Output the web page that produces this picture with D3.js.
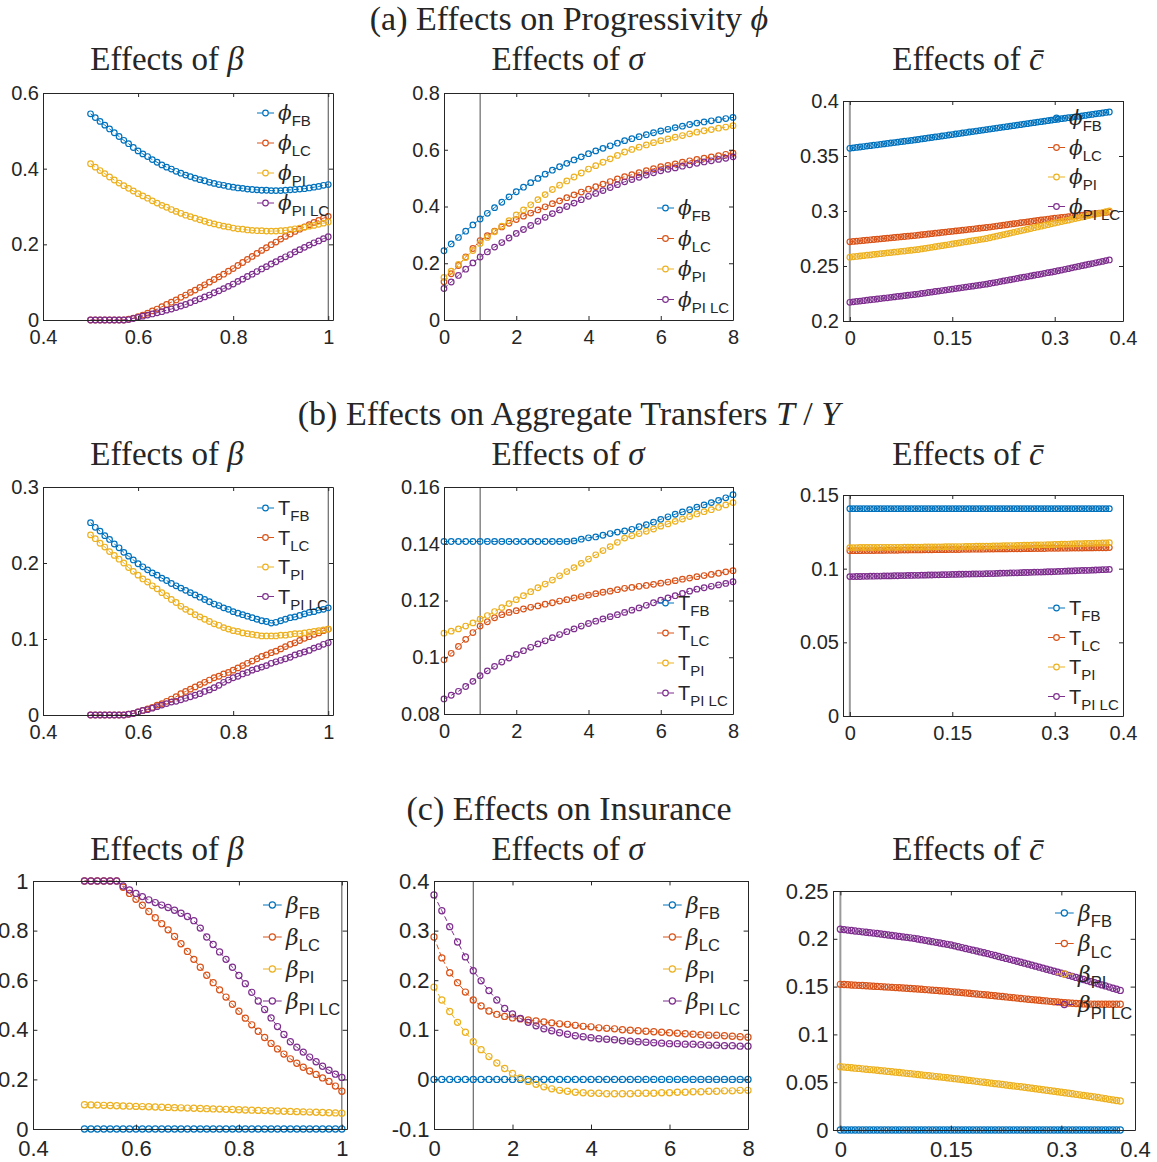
<!DOCTYPE html>
<html>
<head>
<meta charset="utf-8">
<script src="https://cdn.jsdelivr.net/npm/d3@7"></script>
<style>
body { margin: 0; background: #fff; }
svg text { fill: #262626; }
</style>
</head>
<body>
<div id="chart"></div>
<script>
// ---- x grids ----
var betaGrid = [0.50,0.51,0.52,0.53,0.54,0.55,0.56,0.57,0.58,0.59,
	0.60,0.61,0.62,0.63,0.64,0.65,0.66,0.67,0.68,0.69,
	0.70,0.71,0.72,0.73,0.74,0.75,0.76,0.77,0.78,0.79,
	0.80,0.81,0.82,0.83,0.84,0.85,0.86,0.87,0.88,0.89,
	0.90,0.91,0.92,0.93,0.94,0.95,0.96,0.97,0.98,0.99,1.00];
var betaGridIns = [0.5,0.5125,0.525,0.5375,0.55,0.5625,0.575,0.5875,0.6,0.6125,
	0.625,0.6375,0.65,0.6625,0.675,0.6875,0.7,0.7125,0.725,0.7375,
	0.75,0.7625,0.775,0.7875,0.8,0.8125,0.825,0.8375,0.85,0.8625,
	0.875,0.8875,0.9,0.9125,0.925,0.9375,0.95,0.9625,0.975,0.9875,1.0];
var sigmaGrid = [0,0.2,0.4,0.6,0.8,1,1.2,1.4,1.6,1.8,2,2.2,2.4,2.6,2.8,3,3.2,3.4,3.6,3.8,
	4,4.2,4.4,4.6,4.8,5,5.2,5.4,5.6,5.8,6,6.2,6.4,6.6,6.8,7,7.2,7.4,7.6,7.8,8];
var cbarGrid = [0,0.005,0.01,0.015,0.02,0.025,0.03,0.035,0.04,0.045,
	0.05,0.055,0.06,0.065,0.07,0.075,0.08,0.085,0.09,0.095,
	0.1,0.105,0.11,0.115,0.12,0.125,0.13,0.135,0.14,0.145,
	0.15,0.155,0.16,0.165,0.17,0.175,0.18,0.185,0.19,0.195,
	0.2,0.205,0.21,0.215,0.22,0.225,0.23,0.235,0.24,0.245,
	0.25,0.255,0.26,0.265,0.27,0.275,0.28,0.285,0.29,0.295,
	0.3,0.305,0.31,0.315,0.32,0.325,0.33,0.335,0.34,0.345,
	0.35,0.355,0.36,0.365,0.37,0.375,0.38];

var seriesNames = ["FB", "LC", "PI", "PI LC"];
var seriesColors = ["#0072BD", "#D95319", "#EDB120", "#7E2F8E"];

// ---- (a) progressivity ----
var phiBetaFB = [.545,.535,.525,.515,.505,.495,.485,.475,.466,.456,
	.447,.439,.432,.424,.417,.410,.404,.399,.393,.388,
	.383,.379,.375,.371,.368,.364,.361,.358,.356,.353,
	.351,.349,.348,.346,.345,.344,.343,.343,.342,.342,
	.342,.343,.344,.345,.346,.347,.349,.351,.353,.356,.358];
var phiBetaLC = [0,0,0,0,0,0,0,0,.002,.005,
	.009,.013,.018,.024,.029,.035,.041,.047,.053,.060,
	.066,.073,.079,.086,.093,.100,.107,.114,.121,.129,
	.136,.144,.152,.160,.168,.176,.184,.191,.199,.206,
	.214,.221,.227,.234,.240,.246,.252,.258,.263,.269,.274];
var phiBetaPI = [.413,.404,.395,.387,.378,.370,.362,.355,.348,.341,
	.334,.328,.322,.315,.309,.303,.298,.292,.287,.282,
	.277,.273,.269,.265,.261,.257,.254,.251,.248,.246,
	.243,.241,.240,.238,.237,.236,.236,.235,.235,.235,
	.236,.237,.239,.241,.243,.245,.248,.250,.253,.256,.259];
var phiBetaPILC = [0,0,0,0,0,0,0,0,.001,.004,
	.007,.010,.013,.016,.019,.022,.026,.029,.033,.037,
	.041,.046,.051,.056,.061,.066,.072,.077,.083,.089,
	.095,.102,.108,.115,.121,.128,.135,.141,.148,.154,
	.161,.167,.173,.180,.186,.192,.198,.204,.209,.215,.220];

var phiSigmaFB = [.244,.268,.291,.313,.335,.356,.376,.396,.415,.434,
	.452,.468,.484,.499,.514,.528,.540,.552,.564,.575,
	.586,.596,.605,.614,.623,.632,.639,.646,.653,.660,
	.666,.672,.678,.683,.689,.694,.698,.702,.706,.710,.714];
var phiSigmaLC = [.135,.163,.192,.222,.252,.280,.297,.313,.328,.341,
	.354,.366,.377,.388,.399,.410,.420,.431,.441,.451,
	.461,.470,.479,.488,.497,.505,.512,.519,.526,.533,
	.540,.545,.550,.556,.561,.566,.570,.575,.579,.584,.588];
var phiSigmaPI = [.150,.172,.196,.220,.245,.270,.291,.311,.331,.350,
	.370,.388,.406,.424,.442,.460,.475,.490,.504,.518,
	.532,.544,.556,.568,.580,.592,.601,.609,.617,.625,
	.632,.638,.644,.650,.656,.662,.667,.671,.676,.680,.685];
var phiSigmaPILC = [.111,.134,.157,.179,.201,.222,.240,.257,.273,.289,
	.305,.319,.333,.348,.362,.375,.388,.400,.412,.424,
	.436,.446,.456,.467,.477,.487,.495,.503,.511,.519,
	.526,.531,.536,.542,.547,.552,.557,.561,.566,.570,.575];

var phiCbarFB = [.3570,.3574,.3578,.3582,.3586,.3590,.3594,.3598,.3602,.3606,
	.3610,.3614,.3618,.3622,.3626,.3630,.3634,.3638,.3642,.3646,
	.3650,.3655,.3659,.3664,.3668,.3673,.3677,.3682,.3686,.3691,
	.3695,.3700,.3704,.3709,.3713,.3718,.3722,.3727,.3731,.3736,
	.3740,.3745,.3749,.3754,.3758,.3763,.3767,.3772,.3776,.3781,
	.3785,.3790,.3794,.3799,.3803,.3808,.3812,.3817,.3821,.3826,
	.3830,.3834,.3839,.3843,.3848,.3852,.3856,.3861,.3865,.3869,
	.3874,.3878,.3883,.3887,.3891,.3896,.3900];
var phiCbarLC = [.2720,.2723,.2726,.2729,.2732,.2735,.2738,.2741,.2744,.2747,
	.2750,.2753,.2756,.2759,.2762,.2765,.2768,.2771,.2774,.2777,
	.2780,.2784,.2787,.2791,.2794,.2798,.2801,.2805,.2808,.2812,
	.2815,.2819,.2822,.2826,.2829,.2833,.2836,.2840,.2843,.2847,
	.2850,.2854,.2858,.2863,.2867,.2871,.2875,.2880,.2884,.2888,
	.2893,.2897,.2901,.2905,.2910,.2914,.2918,.2922,.2927,.2931,
	.2935,.2938,.2942,.2945,.2949,.2952,.2956,.2959,.2963,.2966,
	.2969,.2973,.2976,.2980,.2983,.2987,.2990];
var phiCbarPI = [.2580,.2584,.2587,.2591,.2594,.2598,.2601,.2605,.2608,.2612,
	.2615,.2619,.2622,.2626,.2629,.2633,.2636,.2640,.2643,.2647,
	.2650,.2655,.2660,.2665,.2670,.2675,.2680,.2685,.2690,.2695,
	.2700,.2705,.2710,.2715,.2720,.2725,.2730,.2735,.2740,.2745,
	.2750,.2757,.2764,.2771,.2778,.2785,.2792,.2799,.2806,.2813,
	.2820,.2827,.2834,.2841,.2848,.2855,.2862,.2869,.2876,.2883,
	.2890,.2897,.2904,.2911,.2917,.2924,.2931,.2938,.2945,.2952,
	.2959,.2966,.2972,.2979,.2986,.2993,.3000];
var phiCbarPILC = [.2170,.2174,.2178,.2181,.2185,.2189,.2193,.2196,.2200,.2204,
	.2208,.2211,.2215,.2219,.2223,.2226,.2230,.2234,.2238,.2241,
	.2245,.2250,.2254,.2259,.2263,.2268,.2272,.2277,.2281,.2286,
	.2290,.2295,.2299,.2304,.2308,.2313,.2317,.2322,.2326,.2331,
	.2335,.2341,.2347,.2352,.2358,.2364,.2370,.2375,.2381,.2387,
	.2393,.2398,.2404,.2410,.2416,.2421,.2427,.2433,.2439,.2444,
	.2450,.2457,.2463,.2470,.2476,.2483,.2490,.2496,.2503,.2509,
	.2516,.2522,.2529,.2536,.2542,.2549,.2555];

// ---- (b) transfers T/Y ----
var tBetaFB = [.253,.247,.242,.236,.231,.225,.220,.214,.209,.204,
	.199,.195,.191,.187,.184,.180,.177,.173,.170,.167,
	.164,.161,.158,.155,.152,.149,.146,.144,.141,.139,
	.136,.134,.132,.130,.128,.126,.124,.123,.121,.122,
	.124,.126,.128,.129,.131,.133,.135,.136,.138,.139,.141];
var tBetaLC = [0,0,0,0,0,0,0,0,.001,.002,
	.004,.006,.008,.010,.013,.015,.018,.021,.024,.028,
	.031,.034,.037,.040,.043,.046,.049,.051,.054,.056,
	.059,.062,.065,.068,.071,.074,.077,.079,.082,.084,
	.087,.090,.093,.095,.098,.101,.103,.106,.108,.111,.113];
var tBetaPI = [.237,.232,.226,.221,.215,.210,.205,.200,.194,.189,
	.184,.179,.175,.170,.166,.161,.157,.152,.148,.143,
	.139,.136,.132,.129,.126,.123,.120,.118,.115,.113,
	.111,.110,.108,.107,.106,.105,.104,.104,.104,.104,
	.105,.105,.106,.107,.107,.108,.109,.110,.111,.112,.113];
var tBetaPILC = [0,0,0,0,0,0,0,0,.001,.002,
	.004,.006,.007,.009,.011,.013,.015,.017,.018,.020,
	.022,.024,.026,.028,.031,.033,.036,.039,.043,.046,
	.049,.051,.054,.056,.059,.061,.063,.065,.068,.070,
	.072,.074,.076,.079,.081,.083,.085,.088,.090,.093,.095];

var tSigmaFB = [.1408,.1408,.1408,.1408,.1408,.1408,.1408,.1408,.1408,.1408,
	.1408,.1408,.1408,.1408,.1408,.1408,.1408,.1408,.1410,.1416,
	.1421,.1424,.1430,.1436,.1441,.1445,.1451,.1460,.1467,.1476,
	.1486,.1495,.1504,.1512,.1520,.1529,.1537,.1545,.1553,.1562,.1573];
var tSigmaLC = [.0991,.1014,.1038,.1063,.1087,.1110,.1125,.1139,.1150,.1158,
	.1164,.1170,.1176,.1181,.1187,.1192,.1198,.1203,.1209,.1214,
	.1219,.1224,.1229,.1233,.1238,.1243,.1246,.1250,.1253,.1257,
	.1261,.1265,.1270,.1275,.1279,.1284,.1288,.1292,.1296,.1301,.1305];
var tSigmaPI = [.1085,.1092,.1100,.1110,.1121,.1134,.1147,.1161,.1175,.1189,
	.1203,.1217,.1231,.1245,.1258,.1272,.1287,.1302,.1316,.1331,
	.1346,.1361,.1376,.1390,.1405,.1420,.1428,.1436,.1444,.1452,
	.1462,.1470,.1479,.1487,.1496,.1505,.1513,.1520,.1528,.1537,.1545];
var tSigmaPILC = [.0853,.0866,.0880,.0897,.0915,.0935,.0952,.0968,.0983,.0997,
	.1010,.1023,.1035,.1047,.1058,.1069,.1080,.1090,.1100,.1110,
	.1119,.1127,.1135,.1143,.1150,.1158,.1166,.1174,.1183,.1192,
	.1201,.1209,.1217,.1225,.1233,.1240,.1245,.1250,.1255,.1260,.1266];

var tCbarFB = [.1407,.1407,.1407,.1407,.1407,.1407,.1407,.1407,.1407,.1407,
	.1407,.1407,.1407,.1407,.1407,.1407,.1407,.1407,.1407,.1407,
	.1407,.1407,.1407,.1407,.1407,.1407,.1407,.1407,.1407,.1407,
	.1407,.1407,.1407,.1407,.1407,.1407,.1407,.1407,.1407,.1407,
	.1407,.1407,.1407,.1407,.1407,.1407,.1407,.1407,.1407,.1407,
	.1407,.1407,.1407,.1407,.1407,.1407,.1407,.1407,.1407,.1407,
	.1407,.1407,.1407,.1407,.1407,.1407,.1407,.1407,.1407,.1407,
	.1407,.1407,.1407,.1407,.1407,.1407,.1407];
var tCbarLC = [.1122,.1122,.1122,.1122,.1123,.1123,.1123,.1123,.1124,.1124,
	.1124,.1125,.1125,.1125,.1125,.1126,.1126,.1126,.1127,.1127,
	.1127,.1127,.1128,.1128,.1128,.1129,.1129,.1129,.1129,.1130,
	.1130,.1130,.1130,.1131,.1131,.1131,.1132,.1132,.1132,.1132,
	.1133,.1133,.1133,.1134,.1134,.1134,.1134,.1135,.1135,.1135,
	.1135,.1136,.1136,.1136,.1137,.1137,.1137,.1137,.1138,.1138,
	.1138,.1138,.1139,.1139,.1139,.1140,.1140,.1140,.1140,.1141,
	.1141,.1141,.1142,.1142,.1142,.1142,.1143];
var tCbarPI = [.1143,.1143,.1143,.1144,.1144,.1144,.1144,.1144,.1144,.1145,
	.1145,.1145,.1145,.1145,.1145,.1145,.1146,.1146,.1146,.1146,
	.1146,.1146,.1147,.1147,.1147,.1148,.1148,.1148,.1149,.1149,
	.1149,.1150,.1150,.1150,.1151,.1151,.1151,.1152,.1152,.1152,
	.1153,.1153,.1154,.1154,.1155,.1156,.1156,.1157,.1157,.1158,
	.1158,.1159,.1160,.1160,.1161,.1161,.1162,.1162,.1163,.1163,
	.1164,.1165,.1166,.1166,.1167,.1168,.1169,.1169,.1170,.1171,
	.1172,.1172,.1173,.1174,.1175,.1175,.1176];
var tCbarPILC = [.0946,.0946,.0947,.0947,.0948,.0948,.0949,.0949,.0950,.0950,
	.0951,.0951,.0951,.0952,.0952,.0953,.0953,.0954,.0954,.0955,
	.0955,.0956,.0956,.0957,.0957,.0958,.0958,.0959,.0959,.0960,
	.0961,.0961,.0962,.0962,.0963,.0963,.0964,.0964,.0965,.0965,
	.0966,.0967,.0967,.0968,.0969,.0970,.0970,.0971,.0972,.0972,
	.0973,.0974,.0974,.0975,.0976,.0977,.0977,.0978,.0979,.0979,
	.0980,.0981,.0982,.0983,.0984,.0985,.0986,.0987,.0988,.0988,
	.0989,.0990,.0991,.0992,.0993,.0994,.0995];

// ---- (c) insurance ----
var insBetaFB = [0,0,0,0,0,0,0,0,0,0, 0,0,0,0,0,0,0,0,0,0,
	0,0,0,0,0,0,0,0,0,0, 0,0,0,0,0,0,0,0,0,0, 0];
var insBetaLC = [1,1,1,1,1,1,.975,.950,.926,.902,
	.877,.852,.828,.803,.776,.747,.716,.684,.652,.620,
	.590,.561,.532,.503,.475,.447,.420,.394,.369,.345,
	.323,.302,.283,.265,.249,.234,.220,.206,.192,.173,.152];
var insBetaPI = [.0980,.0972,.0963,.0955,.0946,.0938,.0929,.0921,.0912,.0904,
	.0895,.0887,.0878,.0870,.0861,.0853,.0844,.0836,.0827,.0819,
	.0810,.0802,.0793,.0785,.0776,.0768,.0759,.0751,.0742,.0734,
	.0725,.0717,.0708,.0700,.0691,.0683,.0674,.0666,.0657,.0649,.0640];
var insBetaPILC = [1,1,1,1,1,1,.980,.964,.950,.937,
	.924,.913,.903,.893,.882,.870,.857,.840,.810,.774,
	.744,.714,.684,.652,.619,.586,.551,.516,.482,.448,
	.413,.381,.352,.330,.310,.290,.271,.253,.237,.221,.208];

var insSigmaFB = [0,0,0,0,0,0,0,0,0,0, 0,0,0,0,0,0,0,0,0,0,
	0,0,0,0,0,0,0,0,0,0, 0,0,0,0,0,0,0,0,0,0, 0];
var insSigmaLC = [.287,.245,.215,.195,.176,.160,.148,.138,.131,.127,
	.124,.122,.120,.118,.116,.114,.112,.111,.109,.107,
	.106,.104,.103,.102,.100,.099,.098,.097,.096,.095,
	.094,.093,.092,.091,.090,.089,.089,.088,.087,.086,.085];
var insSigmaPI = [.186,.160,.137,.115,.095,.076,.060,.046,.033,.022,
	.012,.003,-.004,-.010,-.015,-.019,-.022,-.024,-.026,-.027,
	-.028,-.028,-.029,-.029,-.029,-.029,-.028,-.028,-.028,-.027,
	-.027,-.026,-.026,-.025,-.025,-.024,-.024,-.023,-.023,-.022,-.022];
var insSigmaPILC = [.372,.340,.308,.277,.247,.219,.199,.179,.160,.143,
	.132,.123,.115,.108,.102,.098,.094,.091,.088,.086,
	.084,.082,.081,.080,.078,.077,.076,.075,.074,.073,
	.072,.072,.071,.071,.070,.069,.069,.068,.068,.067,.067];

var insCbarFB = [0,0,0,0,0,0,0,0,0,0, 0,0,0,0,0,0,0,0,0,0,
	0,0,0,0,0,0,0,0,0,0, 0,0,0,0,0,0,0,0,0,0,
	0,0,0,0,0,0,0,0,0,0, 0,0,0,0,0,0,0,0,0,0,
	0,0,0,0,0,0,0,0,0,0, 0,0,0,0,0,0,0];
var insCbarLC = [.1524,.1522,.1520,.1517,.1515,.1513,.1511,.1509,.1506,.1504,
	.1502,.1500,.1497,.1495,.1492,.1490,.1488,.1485,.1483,.1480,
	.1478,.1475,.1472,.1469,.1466,.1463,.1460,.1457,.1454,.1451,
	.1448,.1444,.1441,.1437,.1434,.1430,.1426,.1423,.1419,.1416,
	.1412,.1408,.1404,.1400,.1396,.1392,.1388,.1384,.1380,.1376,
	.1372,.1368,.1364,.1361,.1357,.1353,.1350,.1346,.1342,.1339,
	.1335,.1332,.1329,.1326,.1323,.1321,.1319,.1318,.1317,.1316,
	.1315,.1315,.1315,.1315,.1315,.1315,.1315];
var insCbarPI = [.0662,.0658,.0655,.0651,.0647,.0644,.0640,.0636,.0632,.0629,
	.0625,.0621,.0617,.0613,.0609,.0605,.0601,.0597,.0593,.0589,
	.0585,.0581,.0576,.0572,.0568,.0564,.0559,.0555,.0551,.0546,
	.0542,.0537,.0533,.0528,.0523,.0519,.0514,.0509,.0504,.0500,
	.0495,.0490,.0485,.0481,.0476,.0471,.0466,.0461,.0457,.0452,
	.0447,.0442,.0437,.0431,.0426,.0421,.0416,.0411,.0405,.0400,
	.0395,.0390,.0384,.0379,.0373,.0368,.0362,.0357,.0351,.0346,
	.0340,.0334,.0328,.0321,.0315,.0309,.0303];
var insCbarPILC = [.2100,.2096,.2091,.2087,.2082,.2078,.2073,.2069,.2064,.2060,
	.2055,.2050,.2045,.2040,.2035,.2030,.2025,.2020,.2015,.2010,
	.2005,.1998,.1991,.1984,.1977,.1970,.1963,.1956,.1949,.1942,
	.1935,.1926,.1917,.1908,.1899,.1890,.1881,.1872,.1863,.1854,
	.1845,.1835,.1825,.1815,.1805,.1795,.1785,.1775,.1765,.1755,
	.1745,.1735,.1724,.1714,.1703,.1693,.1682,.1672,.1661,.1651,
	.1640,.1629,.1618,.1607,.1596,.1585,.1574,.1563,.1552,.1541,
	.1530,.1518,.1507,.1495,.1483,.1472,.1460];

// ---- tick values ----
var betaTicks = [0.4, 0.6, 0.8, 1];
var sigmaTicks = [0, 2, 4, 6, 8];
var cbarTicks = [0, 0.15, 0.3, 0.4];

var SANS = "'Liberation Sans', Arial, sans-serif";
var SERIF = "'Liberation Serif', 'Times New Roman', serif";
var GREEK = "'DejaVu Serif', serif";

var W = 1157, H = 1162;
var svg = d3.select("#chart").append("svg")
	.attr("width", W).attr("height", H);

// panel layout (pixel boxes) + which data they use
var panels = [
	{x0:43, x1:333, y0:93, y1:320, xs:betaGrid, ys:[phiBetaFB,phiBetaLC,phiBetaPI,phiBetaPILC],
	 xd:[0.4,1.01], yd:[0,0.6], xt:betaTicks, yt:[0,0.2,0.4,0.6], vline:1, vStyle:"dark",
	 sym:"\u03D5", symSans:false, legX:257, legY:113, legDy:30, s:1},
	{x0:444, x1:733, y0:93, y1:320, xs:sigmaGrid, ys:[phiSigmaFB,phiSigmaLC,phiSigmaPI,phiSigmaPILC],
	 xd:[0,8], yd:[0,0.8], xt:sigmaTicks, yt:[0,0.2,0.4,0.6,0.8], vline:1, vStyle:"dark",
	 sym:"\u03D5", symSans:false, legX:657, legY:208, legDy:30.5, s:1},
	{x0:843, x1:1123, y0:101, y1:321, xs:cbarGrid, ys:[phiCbarFB,phiCbarLC,phiCbarPI,phiCbarPILC],
	 xd:[-0.01,0.4], yd:[0.2,0.4], xt:cbarTicks, yt:[0.2,0.25,0.3,0.35,0.4], vline:0, vStyle:"light",
	 sym:"\u03D5", symSans:false, legX:1048, legY:118, legDy:29.5, s:1},

	{x0:43, x1:333, y0:487, y1:715, xs:betaGrid, ys:[tBetaFB,tBetaLC,tBetaPI,tBetaPILC],
	 xd:[0.4,1.01], yd:[0,0.3], xt:betaTicks, yt:[0,0.1,0.2,0.3], vline:1, vStyle:"dark",
	 sym:"T", symSans:true, legX:257, legY:508, legDy:29.5, s:1},
	{x0:444, x1:733, y0:487, y1:714, xs:sigmaGrid, ys:[tSigmaFB,tSigmaLC,tSigmaPI,tSigmaPILC],
	 xd:[0,8], yd:[0.08,0.16], xt:sigmaTicks, yt:[0.08,0.1,0.12,0.14,0.16], vline:1, vStyle:"dark",
	 sym:"T", symSans:true, legX:657, legY:603, legDy:30, s:1},
	{x0:843, x1:1123, y0:495, y1:716, xs:cbarGrid, ys:[tCbarFB,tCbarLC,tCbarPI,tCbarPILC],
	 xd:[-0.01,0.4], yd:[0,0.15], xt:cbarTicks, yt:[0,0.05,0.1,0.15], vline:0, vStyle:"light",
	 sym:"T", symSans:true, legX:1048, legY:608, legDy:29.5, s:1},

	{x0:33, x1:347, y0:881, y1:1129, xs:betaGridIns, ys:[insBetaFB,insBetaLC,insBetaPI,insBetaPILC],
	 xd:[0.4,1.01], yd:[0,1], xt:betaTicks, yt:[0,0.2,0.4,0.6,0.8,1], vline:1, vStyle:"dark",
	 sym:"\u03B2", symSans:false, legX:263, legY:905, legDy:32, s:1.1},
	{x0:434, x1:748, y0:881, y1:1129, xs:sigmaGrid, ys:[insSigmaFB,insSigmaLC,insSigmaPI,insSigmaPILC],
	 xd:[0,8], yd:[-0.1,0.4], xt:sigmaTicks, yt:[-0.1,0,0.1,0.2,0.3,0.4], vline:1, vStyle:"dark",
	 sym:"\u03B2", symSans:false, legX:663, legY:905, legDy:32, s:1.1},
	{x0:833, x1:1135, y0:891, y1:1130, xs:cbarGrid, ys:[insCbarFB,insCbarLC,insCbarPI,insCbarPILC],
	 xd:[-0.01,0.4], yd:[0,0.25], xt:cbarTicks, yt:[0,0.05,0.1,0.15,0.2,0.25], vline:0, vStyle:"light",
	 sym:"\u03B2", symSans:false, legX:1055, legY:913, legDy:30.5, s:1.1}
];

function fmt(v){
	return String(+v.toFixed(3));
}

function drawPanel(p){
	var s = p.s;
	var x = d3.scaleLinear().domain(p.xd).range([p.x0, p.x1]);
	var y = d3.scaleLinear().domain(p.yd).range([p.y1, p.y0]);
	var g = svg.append("g");

	// reference vertical line
	g.append("line")
		.attr("x1", x(p.vline)).attr("x2", x(p.vline))
		.attr("y1", p.y0).attr("y2", p.y1)
		.attr("stroke", p.vStyle == "dark" ? "#4a4a4a" : "#9a9a9a")
		.attr("stroke-width", p.vStyle == "dark" ? 1 : 2);

	// series: dashed line + open circle markers
	var line = d3.line().x((d, i) => x(p.xs[i])).y(d => y(d));
	p.ys.forEach(function(vals, k){
		g.append("path")
			.attr("d", line(vals))
			.attr("fill", "none")
			.attr("stroke", seriesColors[k])
			.attr("stroke-width", 1)
			.attr("stroke-dasharray", "5,3");
		g.selectAll(null)
			.data(vals)
			.enter()
			.append("circle")
			.attr("cx", (d, i) => x(p.xs[i]))
			.attr("cy", d => y(d))
			.attr("r", 2.8 * s)
			.attr("fill", "none")
			.attr("stroke", seriesColors[k])
			.attr("stroke-width", 1.2);
	});

	// axes, ticks pointing inward on all four sides
	var tk = 4 * s;
	var fs = 20 * s;
	var axB = g.append("g").attr("transform", `translate(0,${p.y1})`)
		.call(d3.axisBottom(x).tickValues(p.xt).tickFormat(fmt)
			.tickSizeInner(-tk).tickSizeOuter(0).tickPadding(10 * s));
	var axT = g.append("g").attr("transform", `translate(0,${p.y0})`)
		.call(d3.axisTop(x).tickValues(p.xt).tickFormat("")
			.tickSizeInner(-tk).tickSizeOuter(0));
	var axL = g.append("g").attr("transform", `translate(${p.x0},0)`)
		.call(d3.axisLeft(y).tickValues(p.yt).tickFormat(fmt)
			.tickSizeInner(-tk).tickSizeOuter(0).tickPadding(4 * s));
	var axR = g.append("g").attr("transform", `translate(${p.x1},0)`)
		.call(d3.axisRight(y).tickValues(p.yt).tickFormat("")
			.tickSizeInner(-tk).tickSizeOuter(0));
	[axB, axT, axL, axR].forEach(function(a){
		a.attr("font-family", SANS).attr("font-size", fs);
		a.selectAll("path, line").attr("stroke", "#262626").attr("stroke-width", 1);
		a.selectAll("text").attr("fill", "#262626");
	});

	// legend
	var lw = 17 * s;
	seriesNames.forEach(function(name, i){
		var ly = p.legY + i * p.legDy;
		var lx = p.legX;
		var c = seriesColors[i];
		g.append("line").attr("x1", lx).attr("x2", lx + lw * 0.32)
			.attr("y1", ly).attr("y2", ly).attr("stroke", c).attr("stroke-width", 1);
		g.append("line").attr("x1", lx + lw * 0.68).attr("x2", lx + lw)
			.attr("y1", ly).attr("y2", ly).attr("stroke", c).attr("stroke-width", 1);
		g.append("circle").attr("cx", lx + lw / 2).attr("cy", ly).attr("r", 2.8 * s)
			.attr("fill", "none").attr("stroke", c).attr("stroke-width", 1.2);
		var t = g.append("text").attr("x", lx + lw + 4 * s).attr("y", ly + 7 * s);
		if (p.symSans){
			t.append("tspan").attr("font-family", SANS).attr("font-size", 20 * s).text(p.sym);
		}
		else{
			t.append("tspan").attr("font-family", GREEK).attr("font-style", "italic")
				.attr("font-size", 20 * s).text(p.sym);
		}
		t.append("tspan").attr("font-family", SANS).attr("font-size", 15 * s)
			.attr("dy", 6 * s).text(name);
	});
}

panels.forEach(drawPanel);

// ---- titles ----
function title(xc, yb, parts, size){
	var t = svg.append("text").attr("x", xc).attr("y", yb)
		.attr("text-anchor", "middle")
		.attr("font-family", SERIF).attr("font-size", size);
	parts.forEach(function(pt){
		var ts = t.append("tspan").text(pt[0]);
		if (pt[1]) ts.attr("font-style", "italic");
	});
}

var colCenters = [167, 568, 968];
var rowTitles = [
	[[["(a) Effects on Progressivity ", false], ["\u03D5", true]], 30, 70],
	[[["(b) Effects on Aggregate Transfers ", false], ["T", true], [" / ", false], ["Y", true]], 425, 465],
	[[["(c) Effects on Insurance", false]], 820, 860]
];
rowTitles.forEach(function(r){
	title(569, r[1], r[0], 34);
	title(colCenters[0], r[2], [["Effects of ", false], ["\u03B2", true]], 33);
	title(colCenters[1], r[2], [["Effects of ", false], ["\u03C3", true]], 33);
	title(colCenters[2], r[2], [["Effects of ", false], ["c\u0304", true]], 33);
});
</script>
</body>
</html>
